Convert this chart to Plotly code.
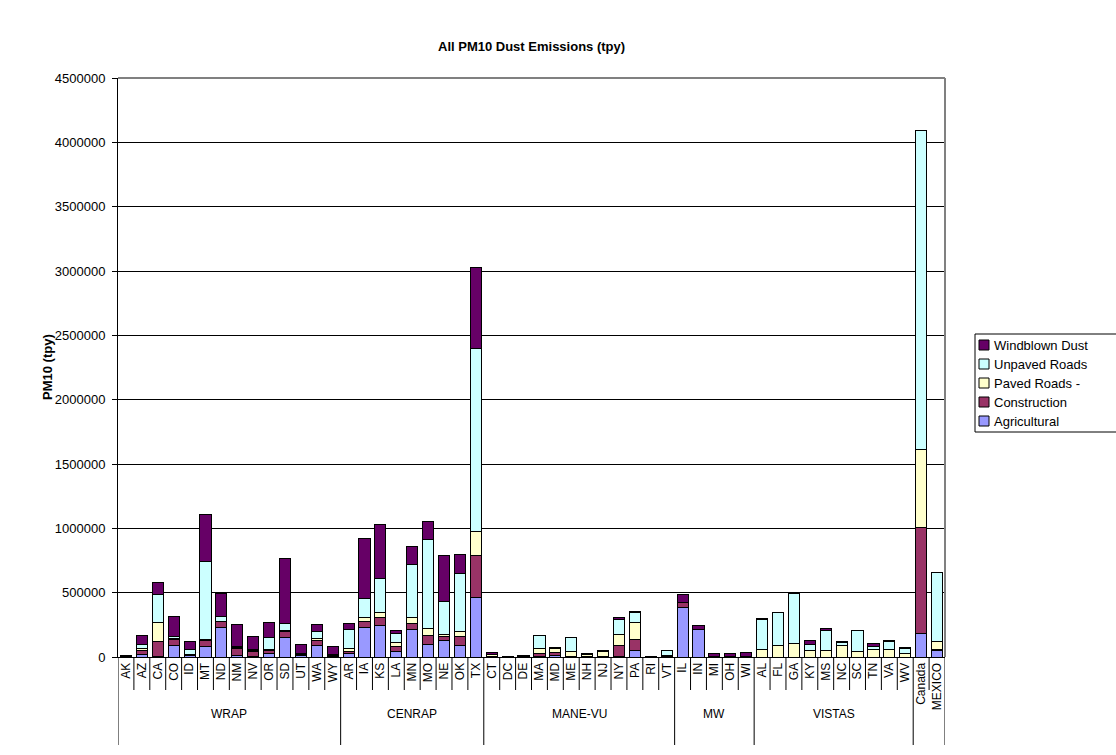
import plotly.graph_objects as go

# ---- data (tons per year) ----
states = ["AK", "AZ", "CA", "CO", "ID", "MT", "ND", "NM", "NV", "OR", "SD", "UT", "WA", "WY",
          "AR", "IA", "KS", "LA", "MN", "MO", "NE", "OK", "TX",
          "CT", "DC", "DE", "MA", "MD", "ME", "NH", "NJ", "NY", "PA", "RI", "VT",
          "IL", "IN", "MI", "OH", "WI",
          "AL", "FL", "GA", "KY", "MS", "NC", "SC", "TN", "VA", "WV",
          "Canada", "MEXICO"]

regions = ["WRAP", "CENRAP", "MANE-VU", "MW", "VISTAS", ""]
region_sizes = [14, 9, 12, 5, 10, 2]

agricultural = [2000, 18000, 3000, 88000, 10000, 85000, 233000, 15000, 2000, 28000, 152000, 13000, 93000, 3000,
                28000, 233000, 248000, 39000, 212000, 101000, 132000, 93000, 460000,
                2000, 0, 0, 2000, 10000, 2000, 0, 1000, 1000, 54000, 0, 3000,
                382000, 213000, 0, 0, 0,
                0, 0, 0, 0, 0, 0, 0, 0, 0, 0,
                180000, 52000]
construction = [2000, 36000, 116000, 49000, 8000, 44000, 41000, 49000, 42000, 23000, 47000, 10000, 34000, 10000,
                15000, 44000, 57000, 39000, 49000, 65000, 28000, 65000, 330000,
                3000, 1000, 1000, 26000, 28000, 2000, 2000, 2000, 85000, 85000, 1000, 2000,
                44000, 2000, 1000, 1000, 1000,
                0, 0, 0, 0, 0, 0, 0, 0, 0, 0,
                830000, 3000]
paved_roads = [1000, 10000, 150000, 10000, 3000, 10000, 5000, 8000, 5000, 10000, 5000, 3000, 15000, 2000,
               20000, 31000, 39000, 36000, 44000, 59000, 18000, 39000, 185000,
               15000, 3000, 3000, 41000, 25000, 40000, 18000, 40000, 92000, 128000, 4000, 10000,
               0, 0, 2000, 3000, 3000,
               60000, 86000, 104000, 49000, 49000, 89000, 42000, 60000, 55000, 26000,
               605000, 64000]
unpaved_roads = [1000, 36000, 220000, 13000, 41000, 600000, 39000, 13000, 10000, 93000, 57000, 5000, 54000, 3000,
                 150000, 150000, 266000, 67000, 411000, 690000, 253000, 450000, 1425000,
                 3000, 1000, 1000, 97000, 5000, 110000, 3000, 3000, 113000, 82000, 1000, 36000,
                 0, 0, 2000, 2000, 3000,
                 229000, 258000, 388000, 49000, 156000, 26000, 161000, 21000, 68000, 42000,
                 2475000, 540000]
windblown_dust = [4000, 70000, 90000, 155000, 57000, 367000, 173000, 165000, 98000, 116000, 504000, 70000, 57000, 65000,
                  44000, 465000, 421000, 28000, 142000, 140000, 357000, 152000, 630000,
                  12000, 0, 5000, 2000, 5000, 1000, 8000, 2000, 14000, 5000, 1000, 3000,
                  56000, 26000, 22000, 24000, 28000,
                  13000, 5000, 8000, 29000, 18000, 8000, 1000, 26000, 5000, 5000,
                  0, 0]

series = [
    ("Agricultural", agricultural, "#9999FF"),
    ("Construction", construction, "#993366"),
    ("Paved Roads -", paved_roads, "#FFFFCC"),
    ("Unpaved Roads", unpaved_roads, "#CCFFFF"),
    ("Windblown Dust", windblown_dust, "#660066"),
]

# ---- geometry of the plot area in pixels ----
W, H = 1116, 755
L, R, T, B = 118, 945, 78, 657
FONT = "Arial, Liberation Sans, sans-serif"


def px_x(px):
    return (px - L) / (R - L)


def px_y(py):
    return (B - py) / (B - T)


fig = go.Figure()
for name, vals, color in series:
    fig.add_trace(go.Bar(
        x=states, y=vals, name=name,
        marker=dict(color=color, line=dict(color="black", width=1)),
        showlegend=False,
    ))

shapes = []
# grey plot-area frame on top and right
shapes.append(dict(type="line", xref="paper", yref="paper", x0=0, x1=1, y0=1, y1=1,
                   line=dict(color="#808080", width=2)))
shapes.append(dict(type="line", xref="paper", yref="paper", x0=1, x1=1, y0=0, y1=1,
                   line=dict(color="#808080", width=2)))

# category separators below the axis; region borders run further down
group_edges = [0]
for n in region_sizes:
    group_edges.append(group_edges[-1] + n)
for i in range(len(states) + 1):
    long_line = i in group_edges
    shapes.append(dict(type="line", xref="x", yref="paper",
                       x0=i - 0.5, x1=i - 0.5, y0=0,
                       y1=px_y(745 if long_line else 690),
                       line=dict(color="black", width=1)))

annotations = []
# region labels
start = 0
for reg, n in zip(regions, region_sizes):
    if reg:
        annotations.append(dict(text=reg, xref="x", yref="paper",
                                x=start + (n - 1) / 2, y=px_y(714),
                                xanchor="center", yanchor="middle",
                                showarrow=False, font=dict(family=FONT, size=12, color="black")))
    start += n

# title and axis title
annotations.append(dict(text="<b>All PM10 Dust Emissions (tpy)</b>", xref="paper", yref="paper",
                        x=0.5, y=px_y(47), xanchor="center", yanchor="middle", showarrow=False,
                        font=dict(family=FONT, size=13, color="black")))
annotations.append(dict(text="<b>PM10 (tpy)</b>", xref="paper", yref="paper",
                        x=px_x(47), y=px_y(367), xanchor="center", yanchor="middle",
                        textangle=-90, showarrow=False,
                        font=dict(family=FONT, size=13, color="black")))

# legend box
shapes.append(dict(type="rect", xref="paper", yref="paper",
                   x0=px_x(975), x1=px_x(1130), y0=px_y(334), y1=px_y(432),
                   line=dict(color="black", width=1), fillcolor="white"))
legend_rows = [345, 364, 383, 402, 421]
for (name, vals, color), row in zip(reversed(series), legend_rows):
    shapes.append(dict(type="rect", xref="paper", yref="paper",
                       x0=px_x(979), x1=px_x(989), y0=px_y(row - 5), y1=px_y(row + 5),
                       line=dict(color="black", width=1), fillcolor=color))
    annotations.append(dict(text=name, xref="paper", yref="paper",
                            x=px_x(992), y=px_y(row), xanchor="left", yanchor="middle",
                            showarrow=False, font=dict(family=FONT, size=13, color="black")))

fig.update_layout(
    width=W, height=H,
    margin=dict(l=L, r=W - R, t=T, b=H - B, pad=0),
    barmode="stack", bargap=0.3,
    plot_bgcolor="white", paper_bgcolor="white",
    font=dict(family=FONT, size=13, color="black"),
    shapes=shapes, annotations=annotations,
    xaxis=dict(type="category", range=[-0.5, len(states) - 0.5],
               tickangle=-90, tickfont=dict(family=FONT, size=12, color="black"),
               showline=True, linecolor="black", linewidth=1,
               ticks="", showgrid=False),
    yaxis=dict(range=[0, 4500000], tick0=0, dtick=500000, tickformat="d",
               showgrid=True, gridcolor="black", gridwidth=1,
               showline=True, linecolor="black", linewidth=1,
               ticks="outside", ticklen=5, tickcolor="black",
               ticklabelstandoff=4,
               tickfont=dict(family=FONT, size=13, color="black"),
               zeroline=False),
)

fig.write_html("out.html")
